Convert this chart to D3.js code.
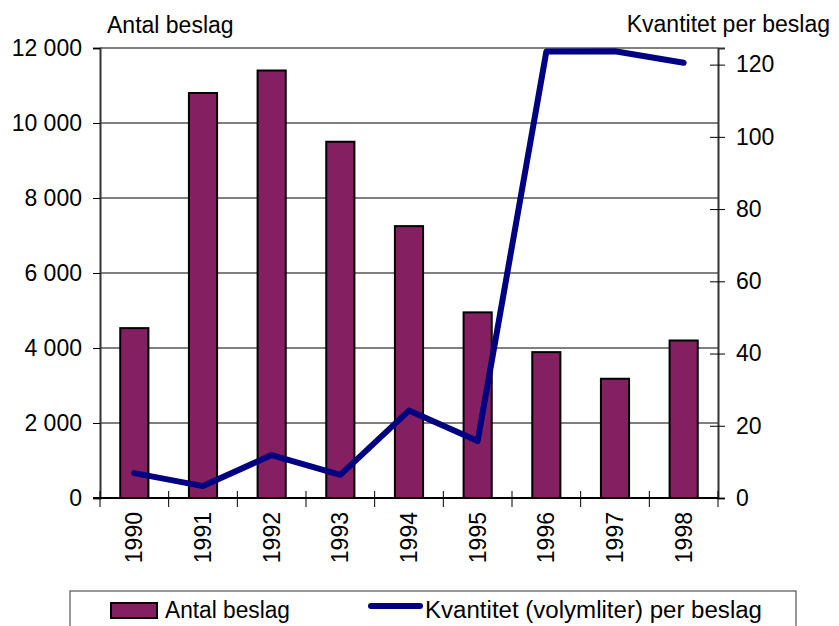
<!DOCTYPE html>
<html>
<head>
<meta charset="utf-8">
<script src="https://cdn.jsdelivr.net/npm/d3@7"></script>
<style>
  body { margin: 0; background: #fff; }
  svg text { font-family: Arial, "Liberation Sans", sans-serif; fill: #000; }
</style>
</head>
<body>
<svg id="chart" width="839" height="626"></svg>
<script>
// Data
const years = ['1990', '1991', '1992', '1993', '1994', '1995', '1996', '1997', '1998'];
const antalBeslag = [4530, 10800, 11400, 9500, 7250, 4950, 3890, 3180, 4200];
const kvantitetPerBeslag = [6.9, 3.3, 11.9, 6.4, 24.2, 15.8, 123.6, 123.7, 120.5];
const leftTicks = [0, 2000, 4000, 6000, 8000, 10000, 12000];
const rightTicks = [0, 20, 40, 60, 80, 100, 120];

const barColor = '#842062', lineColor = '#000080';
const fs = 23;
const fontFam = 'Arial, "Liberation Sans", sans-serif';

let svg = d3.select('#chart');
let pLeft = 100, pRight = 718, pTop = 48, pBottom = 498;

let x = d3.scaleBand().domain(years).range([pLeft, pRight])
    .paddingInner(0.59).paddingOuter(0.295);
let yL = d3.scaleLinear().domain([0, 12000]).range([pBottom, pTop]);
let yR = d3.scaleLinear().domain([0, 124.6]).range([pBottom, pTop]);
let fmt = v => d3.format(',')(v).replace(/,/g, ' ');

// gridlines
svg.append('g').selectAll('line')
    .data(leftTicks.filter(d => d > 0 && d < 12000)).enter().append('line')
    .attr('x1', pLeft).attr('x2', pRight)
    .attr('y1', d => yL(d)).attr('y2', d => yL(d))
    .attr('stroke', '#000').attr('stroke-width', 1);
// top border
svg.append('line').attr('x1', pLeft).attr('x2', pRight)
    .attr('y1', pTop).attr('y2', pTop)
    .attr('stroke', '#808080').attr('stroke-width', 2);

// bars
svg.append('g').selectAll('rect')
    .data(antalBeslag).enter().append('rect')
    .attr('x', (d, i) => x(years[i]))
    .attr('y', d => yL(d))
    .attr('width', x.bandwidth())
    .attr('height', d => pBottom - yL(d))
    .attr('fill', barColor)
    .attr('stroke', '#000').attr('stroke-width', 2);

// left axis
let gL = svg.append('g').attr('transform', `translate(${pLeft},0)`)
    .call(d3.axisLeft(yL).tickValues(leftTicks).tickFormat(fmt).tickSizeOuter(0).tickSize(7).tickPadding(11));
gL.select('.domain').attr('stroke', '#333').attr('stroke-width', 2);
gL.selectAll('.tick line').attr('stroke', '#000');
gL.selectAll('.tick text').attr('font-size', fs).attr('font-family', fontFam);

// right axis (cross ticks)
let gR = svg.append('g').attr('transform', `translate(${pRight},0)`)
    .call(d3.axisRight(yR).tickValues(rightTicks).tickSizeOuter(0).tickSize(7).tickPadding(11));
gR.select('.domain').attr('stroke', '#333').attr('stroke-width', 2);
gR.selectAll('.tick line').attr('x1', -8).attr('stroke', '#000');
gR.selectAll('.tick text').attr('font-size', fs).attr('font-family', fontFam);

// x axis
let gX = svg.append('g');
gX.append('line').attr('x1', pLeft - 7).attr('x2', pRight)
    .attr('y1', pBottom).attr('y2', pBottom)
    .attr('stroke', '#000').attr('stroke-width', 2);
gX.selectAll('line.tk').data(d3.range(years.length + 1)).enter().append('line')
    .attr('class', 'tk')
    .attr('x1', i => pLeft + i * x.step()).attr('x2', i => pLeft + i * x.step())
    .attr('y1', pBottom - 7).attr('y2', pBottom + 9)
    .attr('stroke', '#000');
gX.selectAll('text').data(years).enter().append('text')
    .attr('transform', d => `translate(${x(d) + x.bandwidth() / 2}, ${pBottom + 14}) rotate(-90)`)
    .attr('text-anchor', 'end').attr('dy', '0.35em')
    .attr('font-size', fs).text(d => d);

// line
let lineGen = d3.line()
    .x((d, i) => x(years[i]) + x.bandwidth() / 2)
    .y(d => yR(d));
svg.append('path').datum(kvantitetPerBeslag)
    .attr('d', lineGen)
    .attr('fill', 'none').attr('stroke', lineColor)
    .attr('stroke-width', 6).attr('stroke-linejoin', 'round').attr('stroke-linecap', 'round');

// axis titles
svg.append('text').attr('x', 107).attr('y', 33).attr('font-size', fs).text('Antal beslag');
svg.append('text').attr('x', 830).attr('y', 32).attr('text-anchor', 'end')
    .attr('font-size', fs).text('Kvantitet per beslag');

// legend
let leg = svg.append('g');
leg.append('rect').attr('x', 70).attr('y', 591).attr('width', 726).attr('height', 50)
    .attr('fill', '#fff').attr('stroke', '#333').attr('stroke-width', 1);
leg.append('rect').attr('x', 111).attr('y', 603).attr('width', 46).attr('height', 15)
    .attr('fill', barColor).attr('stroke', '#000').attr('stroke-width', 2);
leg.append('text').attr('x', 165).attr('y', 618).attr('font-size', fs)
    .attr('textLength', 125).attr('lengthAdjust', 'spacingAndGlyphs').text('Antal beslag');
leg.append('line').attr('x1', 371).attr('x2', 420).attr('y1', 606).attr('y2', 606)
    .attr('stroke', lineColor).attr('stroke-width', 6).attr('stroke-linecap', 'round');
leg.append('text').attr('x', 425).attr('y', 618).attr('font-size', fs)
    .attr('textLength', 337).attr('lengthAdjust', 'spacingAndGlyphs')
    .text('Kvantitet (volymliter) per beslag');
</script>
</body>
</html>
